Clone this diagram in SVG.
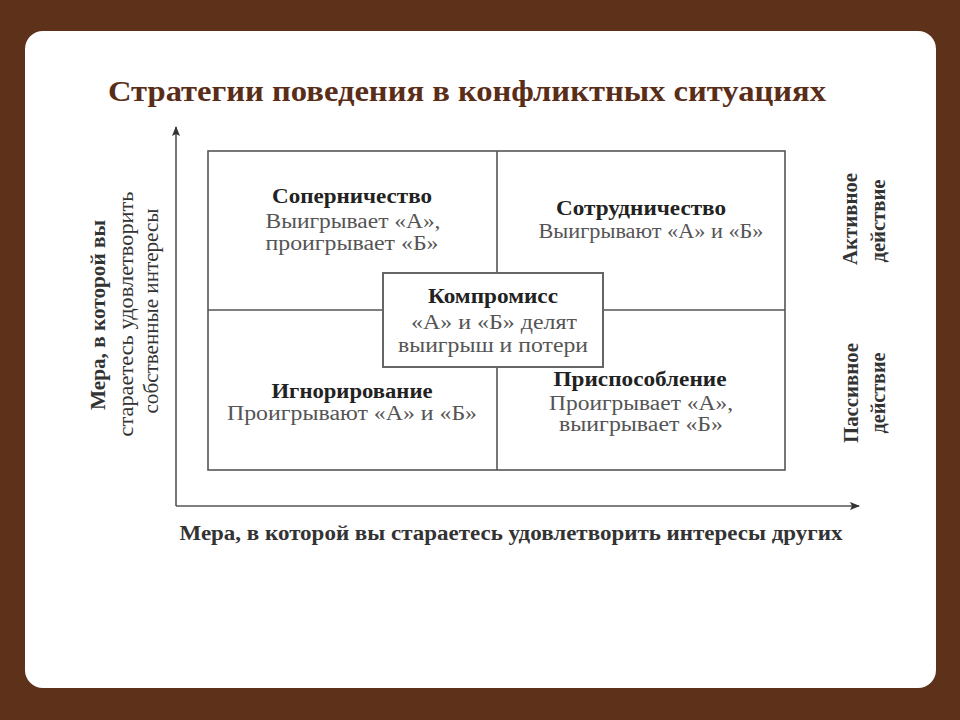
<svg xmlns="http://www.w3.org/2000/svg" width="960" height="720" viewBox="0 0 960 720">
<style>
.ln{stroke:#555;stroke-width:1.6;fill:none}
.box{stroke:#666;stroke-width:2;fill:#fff}
.t{font-family:"Liberation Serif",serif;font-size:20px;text-anchor:middle}
.h{font-weight:bold;fill:#222}
.r{fill:#555}
.ax{font-family:"Liberation Serif",serif;font-size:20px;text-anchor:middle;font-weight:bold;fill:#333}
.n{font-weight:normal;fill:#333}
</style>
<defs>
<marker id="ar" viewBox="0 0 10 10" refX="9" refY="5" markerWidth="10" markerHeight="10" markerUnits="userSpaceOnUse" orient="auto"><path d="M0,1 L10,5 L0,9 L2,5 z" fill="#333"/></marker>
</defs>
<rect width="960" height="720" fill="#5e321a"/>
<rect x="25" y="31" width="911" height="657" rx="18" fill="#fff"/>
<text x="467" y="101" font-family="Liberation Serif,serif" font-size="30" font-weight="bold" fill="#5a2d18" text-anchor="middle" textLength="718" lengthAdjust="spacingAndGlyphs">Стратегии поведения в конфликтных ситуациях</text>
<g id="connectors">
<line class="ln" x1="176" y1="506" x2="176" y2="127" marker-end="url(#ar)"/>
<line class="ln" x1="176" y1="506" x2="859" y2="506" marker-end="url(#ar)"/>
<rect class="ln" x="208" y="151" width="577" height="319"/>
<line class="ln" x1="497" y1="151" x2="497" y2="470"/>
<line class="ln" x1="208" y1="310" x2="785" y2="310"/>
</g>
<g id="sopernichestvo" class="t">
<text class="h" x="352" y="203" textLength="160" lengthAdjust="spacingAndGlyphs">Соперничество</text>
<text class="r" x="353" y="228" textLength="175" lengthAdjust="spacingAndGlyphs">Выигрывает «А»,</text>
<text class="r" x="352" y="250" textLength="173" lengthAdjust="spacingAndGlyphs">проигрывает «Б»</text>
</g>
<g id="sotrudnichestvo" class="t">
<text class="h" x="641" y="215" textLength="170" lengthAdjust="spacingAndGlyphs">Сотрудничество</text>
<text class="r" x="651" y="238" textLength="225" lengthAdjust="spacingAndGlyphs">Выигрывают «А» и «Б»</text>
</g>
<g id="ignorirovanie" class="t">
<text class="h" x="352" y="398" textLength="161" lengthAdjust="spacingAndGlyphs">Игнорирование</text>
<text class="r" x="352" y="420" textLength="250" lengthAdjust="spacingAndGlyphs">Проигрывают «А» и «Б»</text>
</g>
<g id="prisposoblenie" class="t">
<text class="h" x="640" y="386" textLength="173" lengthAdjust="spacingAndGlyphs">Приспособление</text>
<text class="r" x="641" y="410" textLength="184" lengthAdjust="spacingAndGlyphs">Проигрывает «А»,</text>
<text class="r" x="641" y="431" textLength="164" lengthAdjust="spacingAndGlyphs">выигрывает «Б»</text>
</g>
<g id="kompromiss" class="t">
<rect class="box" x="383" y="273" width="220" height="94"/>
<text class="h" x="493" y="303" textLength="130" lengthAdjust="spacingAndGlyphs">Компромисс</text>
<text class="r" x="494" y="329" textLength="166" lengthAdjust="spacingAndGlyphs">«А» и «Б» делят</text>
<text class="r" x="493" y="352" textLength="190" lengthAdjust="spacingAndGlyphs">выигрыш и потери</text>
</g>
<g id="ylabel" class="ax" transform="translate(127,310) rotate(-90)">
<text x="-5" y="-22" textLength="190" lengthAdjust="spacingAndGlyphs">Мера, в которой вы</text>
<text class="n" x="-4" y="6" textLength="245" lengthAdjust="spacingAndGlyphs">стараетесь удовлетворить</text>
<text class="n" x="-1" y="31" textLength="205" lengthAdjust="spacingAndGlyphs">собственные интересы</text>
</g>
<text class="ax" x="511" y="540" textLength="663" lengthAdjust="spacingAndGlyphs">Мера, в которой вы стараетесь удовлетворить интересы других</text>
<g id="active" class="ax" transform="translate(866,220) rotate(-90)">
<text x="1" y="-9" textLength="92" lengthAdjust="spacingAndGlyphs">Активное</text>
<text x="-1" y="19" textLength="83" lengthAdjust="spacingAndGlyphs">действие</text>
</g>
<g id="passive" class="ax" transform="translate(866,393) rotate(-90)">
<text x="0" y="-8" textLength="100" lengthAdjust="spacingAndGlyphs">Пассивное</text>
<text x="0" y="19" textLength="81" lengthAdjust="spacingAndGlyphs">действие</text>
</g>
</svg>
